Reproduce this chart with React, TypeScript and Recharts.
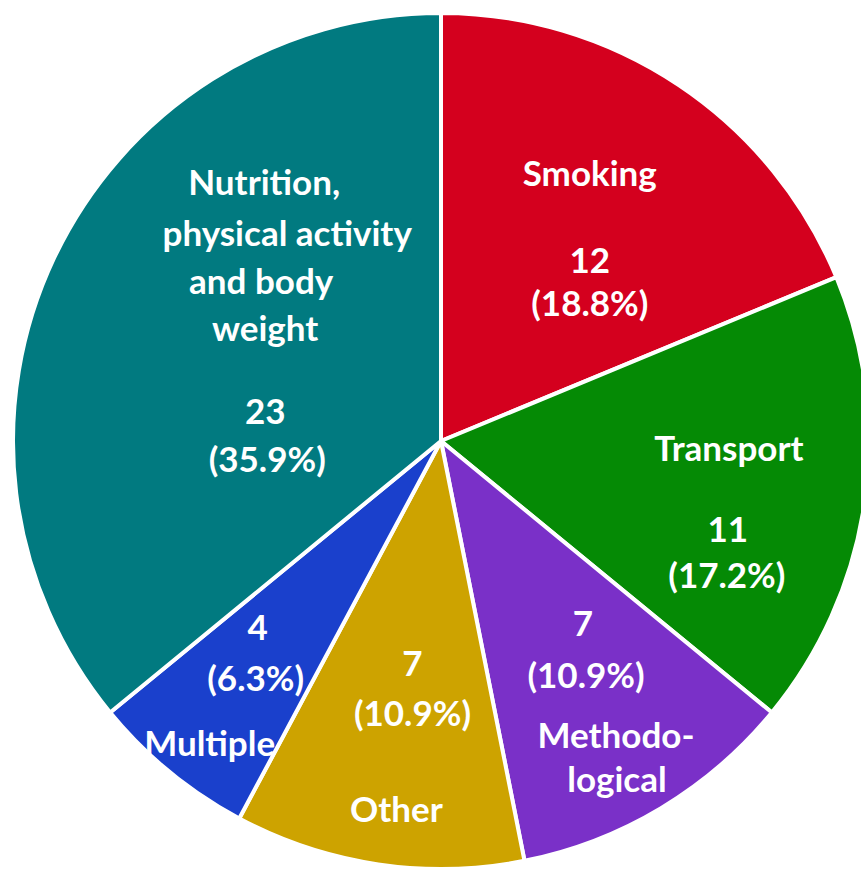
import { PieChart, Pie, Cell } from 'recharts';

// slice data, clockwise from 12 o'clock
const categories = ['Smoking', 'Transport', 'Methodological', 'Other', 'Multiple', 'Nutrition, physical activity and body weight'];
const counts = [12, 11, 7, 7, 4, 23];
const percentLabels = ['(18.8%)', '(17.2%)', '(10.9%)', '(10.9%)', '(6.3%)', '(35.9%)'];
const nameLines = [
  ['Smoking'],
  ['Transport'],
  ['Methodo-', 'logical'],
  ['Other'],
  ['Multiple'],
  ['Nutrition,', 'physical activity', 'and body', 'weight'],
];
const colors = ['#d4001e', '#058a05', '#7a30c8', '#cda300', '#1a40cc', '#017a80'];

const data = categories.map((name, i) => ({ name, value: counts[i] }));

// text offsets from an anchor on each slice's mid angle
type Item = { t: string; dx: number; dy: number };
const layout = (i: number): Item[] => {
  const n = nameLines[i];
  const c = String(counts[i]);
  const p = percentLabels[i];
  switch (i) {
    case 0:
      return [{ t: n[0], dx: 18, dy: -73 }, { t: c, dx: 18, dy: 14 }, { t: p, dx: 18, dy: 57 }];
    case 1:
      return [{ t: n[0], dx: 55, dy: -29 }, { t: c, dx: 54, dy: 52 }, { t: p, dx: 53, dy: 98 }];
    case 2:
      return [{ t: c, dx: 21, dy: -21 }, { t: p, dx: 24, dy: 31 }, { t: n[0], dx: 54, dy: 91 }, { t: n[1], dx: 55, dy: 135 }];
    case 3:
      return [{ t: c, dx: 6, dy: -12 }, { t: p, dx: 6, dy: 38 }, { t: n[0], dx: -10, dy: 134 }];
    case 4:
      return [{ t: c, dx: -34, dy: 3 }, { t: p, dx: -36, dy: 54 }, { t: n[0], dx: -82, dy: 119 }];
    default:
      return [
        { t: n[0], dx: 36, dy: -159 },
        { t: n[1], dx: 59, dy: -108 },
        { t: n[2], dx: 33, dy: -60 },
        { t: n[3], dx: 37, dy: -13 },
        { t: c, dx: 37, dy: 70 },
        { t: p, dx: 39, dy: 118 },
      ];
  }
};

const RADIAN = Math.PI / 180;

const renderLabel = (props: any) => {
  const { cx, cy, midAngle, outerRadius, index } = props;
  const r = outerRadius * 0.55;
  const ax = cx + r * Math.cos(-midAngle * RADIAN);
  const ay = cy + r * Math.sin(-midAngle * RADIAN);
  return (
    <g key={`lbl-${index}`}>
      {layout(index).map((it, k) => (
        <text
          key={k}
          x={ax + it.dx}
          y={ay + it.dy}
          textAnchor="middle"
          dominantBaseline="central"
          fill="#ffffff"
          style={{ fontFamily: 'Lato, sans-serif', fontWeight: 700, fontSize: 35 }}
        >
          {it.t}
        </text>
      ))}
    </g>
  );
};

export default function App() {
  return (
    <div style={{ position: 'absolute', left: 0, top: 0, width: 861, height: 871, overflow: 'hidden', background: '#fff' }}>
      <PieChart width={861} height={871} margin={{ top: 0, right: 0, bottom: 0, left: 0 }}>
        <Pie
          data={data}
          dataKey="value"
          nameKey="name"
          cx={441}
          cy={441}
          outerRadius={428}
          startAngle={90}
          endAngle={-270}
          stroke="#ffffff"
          strokeWidth={4}
          label={renderLabel}
          labelLine={false}
          isAnimationActive={false}
        >
          {data.map((d, i) => (
            <Cell key={d.name} fill={colors[i]} />
          ))}
        </Pie>
      </PieChart>
    </div>
  );
}
